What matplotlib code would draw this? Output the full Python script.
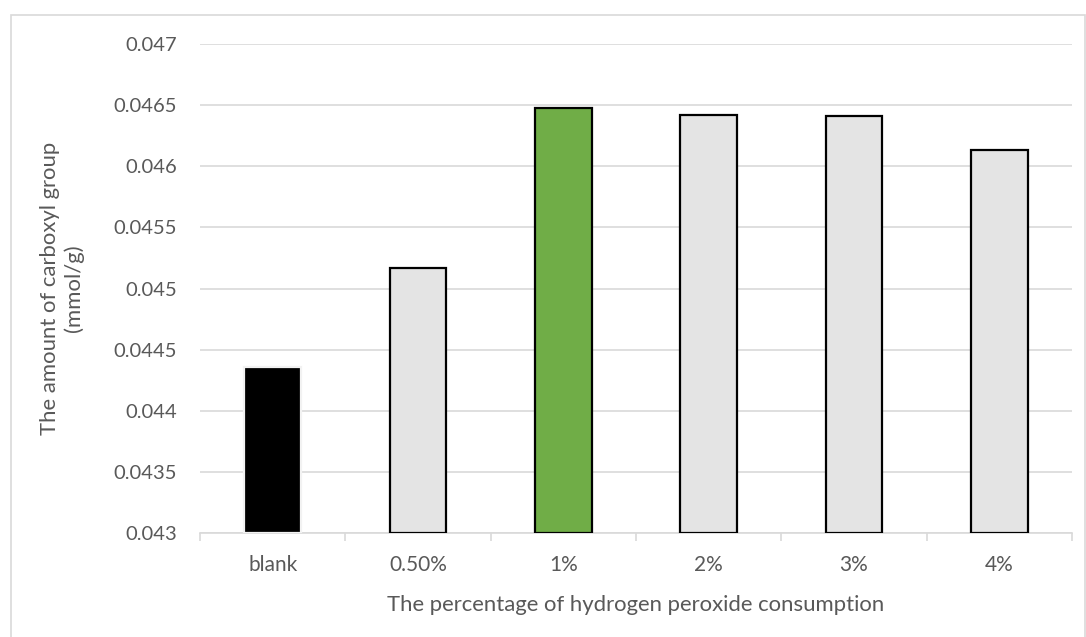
import matplotlib
matplotlib.use("Agg")
import matplotlib.pyplot as plt
from matplotlib.patches import Rectangle
from matplotlib.ticker import FixedLocator

categories = ["blank", "0.50%", "1%", "2%", "3%", "4%"]
values = [0.04436, 0.04517, 0.04648, 0.04642, 0.04641, 0.04613]
bar_colors = ["#000000", "#E4E4E4", "#70AD47", "#E4E4E4", "#E4E4E4", "#E4E4E4"]
edge_colors = ["#F2F2F2", "#000000", "#000000", "#000000", "#000000", "#000000"]
ytick_labels = ["0.043", "0.0435", "0.044", "0.0445", "0.045", "0.0455", "0.046", "0.0465", "0.047"]

plt.rcParams['font.family'] = ['Lato', 'DejaVu Sans']
text_color = "#595959"
grid_color = "#D9D9D9"

W, H = 1086, 637
fig = plt.figure(figsize=(W / 100, H / 100), dpi=100)
fig.patches.append(Rectangle((11 / W, -0.01), (1085 - 11) / W, 1 - 15 / H + 0.01,
                             transform=fig.transFigure, fill=False,
                             edgecolor=grid_color, linewidth=1.2))

ax = fig.add_axes([200 / W, 1 - 533 / H, (1072 - 200) / W, (533 - 44) / H])
x = list(range(len(categories)))
ax.bar(x, [v - 0.043 for v in values], bottom=0.043, width=0.39,
       color=bar_colors, edgecolor=edge_colors, linewidth=1.6, zorder=3)

ax.set_xlim(-0.5, len(categories) - 0.5)
ax.set_ylim(0.043, 0.047)
yt = [float(t) for t in ytick_labels]
ax.set_yticks(yt)
ax.set_yticklabels(ytick_labels)
ax.set_xticks(x)
ax.set_xticklabels(categories)
ax.xaxis.set_minor_locator(FixedLocator([i - 0.5 for i in range(len(categories) + 1)]))

ax.grid(axis='y', color=grid_color, linewidth=1.2, zorder=0)
ax.set_axisbelow(True)
for s in ["top", "right", "left"]:
    ax.spines[s].set_visible(False)
ax.spines["bottom"].set_color(grid_color)
ax.spines["bottom"].set_linewidth(1.2)

ax.tick_params(axis='y', length=0, pad=16.5, labelsize=14.5, labelcolor=text_color)
ax.tick_params(axis='x', which='major', length=0, pad=16, labelsize=15, labelcolor=text_color)
ax.tick_params(axis='x', which='minor', length=6, width=1.2, color=grid_color)

ax.set_xlabel("The percentage of hydrogen peroxide consumption", fontsize=15.9,
              color=text_color, labelpad=14)
ax.set_ylabel("The amount of carboxyl group\n(mmol/g)", fontsize=15.9,
              color=text_color, labelpad=21, linespacing=1.25)

fig.savefig("out.png", dpi=100)
